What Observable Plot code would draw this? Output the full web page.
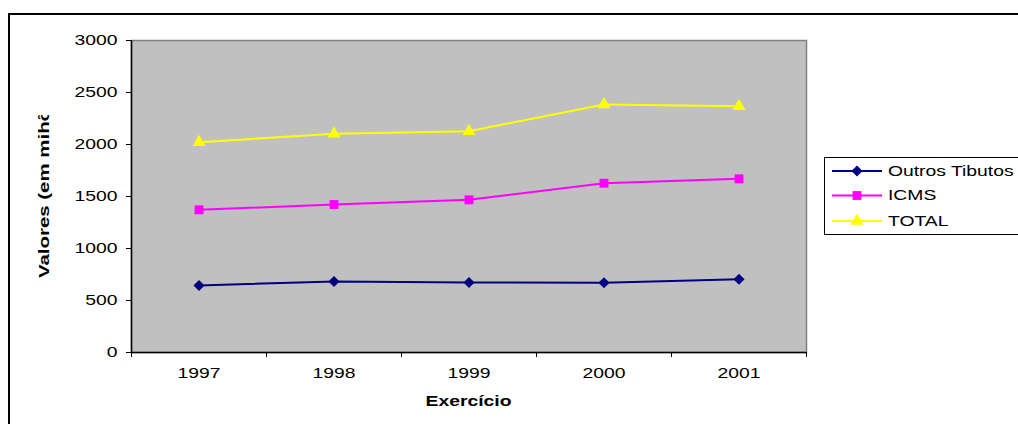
<!DOCTYPE html>
<html>
<head>
<meta charset="utf-8">
<script src="https://cdn.jsdelivr.net/npm/d3@7"></script>
<script src="https://cdn.jsdelivr.net/npm/@observablehq/plot@0.6"></script>
<style>
  html, body { margin: 0; padding: 0; background: #fff; }
  svg { display: block; }
</style>
</head>
<body>
<div id="chart"></div>
<script>
const years = [1997, 1998, 1999, 2000, 2001];
const outros = [644, 683, 673, 670, 705];
const icms = [1372, 1423, 1468, 1628, 1670];
const total = [2022, 2103, 2128, 2385, 2368];
const seriesNames = ["Outros Tibutos", "ICMS", "TOTAL"];
const seriesValues = [outros, icms, total];
const seriesColors = ["#000080", "#FF00FF", "#FFFF00"];
const seriesSymbols = ["diamond2", "square", "triangle"];
const symbolRadius = [5, 5, 4.8];
const yTicks = [0, 500, 1000, 1500, 2000, 2500, 3000];
const xLabel = "Exercício";
const yLabel = "Valores (em mihões)";

const data = seriesNames.flatMap((s, i) => years.map((y, j) => ({series: s, year: y, value: seriesValues[i][j]})));
const bounds = [years[0] - 0.5, ...years.map(y => y + 0.5)];
const SX = 1.38;
const SXY = 1.46;
const FONT = "'Liberation Sans', Arial, sans-serif";

const marks = [
  Plot.frame({fill: "#C0C0C0", stroke: "#808080", strokeWidth: 1.5}),
  Plot.axisY({ticks: yTicks, tickSize: 5, tickPadding: 9, label: null, tickFormat: d => String(d), stroke: "#000", fill: "#000"}),
  Plot.axisX({ticks: bounds, tickSize: 5, tickFormat: () => "", label: null, stroke: "#000"}),
  Plot.axisX({ticks: years, tickSize: 0, tickPadding: 16, tickFormat: d => String(d), label: null, fill: "#000"}),
  Plot.ruleX([bounds[0]], {stroke: "#000", strokeWidth: 1.5}),
  Plot.ruleY([0], {stroke: "#000", strokeWidth: 1.5})
];
seriesNames.forEach((s, i) => {
  const d = data.filter(r => r.series === s);
  marks.push(Plot.line(d, {x: "year", y: "value", stroke: seriesColors[i], strokeWidth: 2}));
  marks.push(Plot.dot(d, {x: "year", y: "value", symbol: seriesSymbols[i], r: symbolRadius[i], fill: seriesColors[i], stroke: "none"}));
});

const chart = Plot.plot({
  width: 1018,
  height: 424,
  marginLeft: 131,
  marginRight: 212,
  marginTop: 40,
  marginBottom: 72,
  style: {fontFamily: FONT, fontSize: "14px", background: "#fff", color: "#000"},
  x: {type: "linear", domain: [bounds[0], bounds[bounds.length - 1]], axis: null},
  y: {domain: [0, 3000], axis: null},
  marks
});
document.getElementById("chart").appendChild(chart);

const svg = d3.select(chart);
// stretch tick labels horizontally
svg.selectAll("g[aria-label='y-axis tick label'] text, g[aria-label='x-axis tick label'] text").each(function() {
  const t = this.getAttribute("transform");
  if (t) {
    this.setAttribute("transform", t + ` scale(${SX},1)`);
  } else {
    const x = this.getAttribute("x") || 0, y = this.getAttribute("y") || 0;
    this.removeAttribute("x"); this.removeAttribute("y");
    this.setAttribute("transform", `translate(${x},${y}) scale(${SX},1)`);
  }
});

// outer chart border
svg.append("rect").attr("x", 9).attr("y", 14).attr("width", 1100).attr("height", 500)
  .attr("fill", "none").attr("stroke", "#000").attr("stroke-width", 2);

// x axis title
svg.append("text").attr("transform", `translate(468.5,401) scale(${SX},1)`)
  .attr("text-anchor", "middle").attr("dominant-baseline", "central")
  .attr("font-weight", "bold").attr("font-size", 14).attr("font-family", FONT).text(xLabel);

// y axis title (clipped as in the original)
svg.append("clipPath").attr("id", "yclip").append("rect").attr("x", 0).attr("y", 115).attr("width", 120).attr("height", 300);
svg.append("g").attr("clip-path", "url(#yclip)")
  .append("text").attr("transform", `translate(44,278) rotate(-90) scale(${SXY},1)`)
  .attr("text-anchor", "start").attr("dominant-baseline", "central")
  .attr("font-weight", "bold").attr("font-size", 14).attr("font-family", FONT).text(yLabel);

// legend
const lg = svg.append("g");
lg.append("rect").attr("x", 824.5).attr("y", 157.5).attr("width", 300).attr("height", 77)
  .attr("fill", "#fff").attr("stroke", "#000").attr("stroke-width", 1);
const rowsY = [171, 195.5, 221];
const symMap = {diamond2: d3.symbolDiamond2, square: d3.symbolSquare, triangle: d3.symbolTriangle};
seriesNames.forEach((s, i) => {
  const y = rowsY[i];
  lg.append("line").attr("x1", 832).attr("x2", 882).attr("y1", y).attr("y2", y)
    .attr("stroke", seriesColors[i]).attr("stroke-width", 2);
  const size = Math.PI * symbolRadius[i] * symbolRadius[i];
  lg.append("path").attr("d", d3.symbol(symMap[seriesSymbols[i]], size)())
    .attr("transform", `translate(857,${y})`).attr("fill", seriesColors[i]);
  lg.append("text").attr("transform", `translate(888,${y}) scale(${SX},1)`)
    .attr("text-anchor", "start").attr("dominant-baseline", "central").attr("font-size", 14).attr("font-family", FONT)
    .attr("fill", "#000").text(s);
});
</script>
</body>
</html>
